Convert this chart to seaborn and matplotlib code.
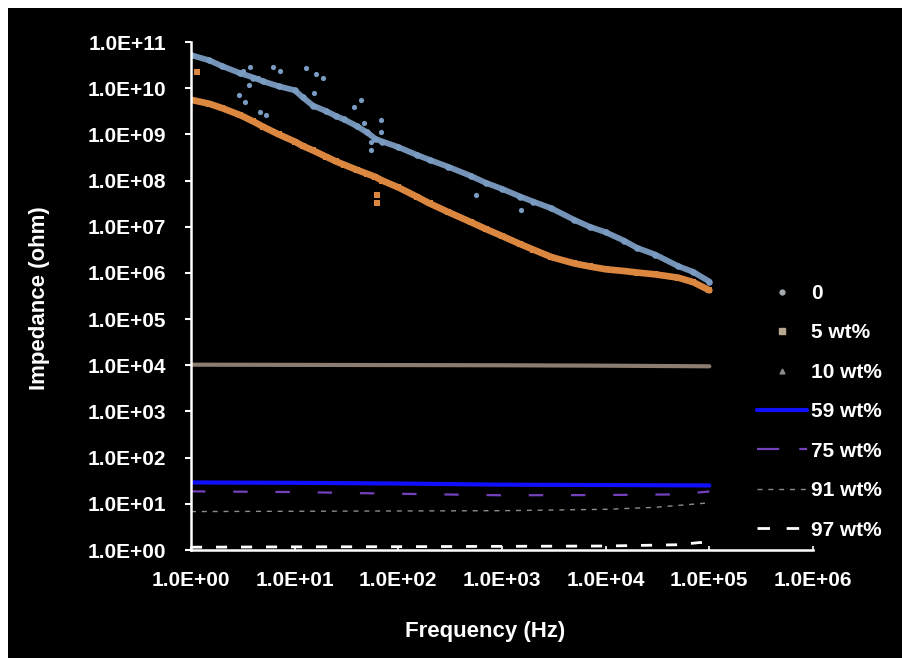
import matplotlib
matplotlib.use("Agg")
import matplotlib.pyplot as plt
from matplotlib.lines import Line2D
from matplotlib.patches import Rectangle
from matplotlib.ticker import FixedLocator, FuncFormatter, NullLocator
import seaborn as sns

# Frequency sweep (Hz) for the two dielectric samples
freq = [1, 1.5, 2, 3, 4, 5, 7, 10, 12, 15, 20, 25, 30, 40, 50, 60, 70, 100,
        150, 200, 300, 500, 700, 1000, 1500, 2000, 3000, 5000, 7000, 10000,
        15000, 20000, 30000, 50000, 70000, 100000]

# Impedance (ohm), 0 wt%
z_0 = [5.2e10, 4.0e10, 3.0e10, 2.1e10, 1.7e10, 1.4e10, 1.1e10, 9.0e9, 6.3e9,
       4.2e9, 3.2e9, 2.5e9, 2.1e9, 1.5e9, 1.1e9, 8.0e8, 7.0e8, 5.3e8, 3.6e8,
       2.8e8, 2.0e8, 1.26e8, 8.9e7, 6.6e7, 4.5e7, 3.5e7, 2.5e7, 1.4e7, 1.0e7,
       7.6e6, 5.0e6, 3.5e6, 2.5e6, 1.4e6, 1.05e6, 6.5e5]

# Scattered readings of the 0 wt% sample
out0_f = [2.9, 3.2, 3.6, 3.3, 3.7, 4.4, 4.6, 5.3, 6.2, 7.2, 12.9, 16.2, 15.5,
          18.6, 37.0, 43.6, 46.8, 54.9, 67.6, 67.6, 54.9, 562, 1510]
out0_z = [7.1e9, 2.4e10, 1.2e10, 5.0e9, 2.9e10, 1.7e10, 3.0e9, 2.6e9, 2.9e10,
          2.4e10, 2.8e10, 2.0e10, 8.0e9, 1.65e10, 3.9e9, 5.5e9, 1.8e9, 6.9e8,
          2.0e9, 1.1e9, 4.6e8, 4.9e7, 2.3e7]

# Impedance (ohm), 5 wt%
z_5 = [5.6e9, 4.6e9, 3.7e9, 2.6e9, 1.9e9, 1.45e9, 1.0e9, 7.0e8, 5.6e8, 4.5e8,
       3.3e8, 2.6e8, 2.2e8, 1.7e8, 1.4e8, 1.2e8, 1.0e8, 7.1e7, 4.5e7, 3.2e7,
       2.1e7, 1.26e7, 8.9e6, 6.3e6, 4.2e6, 3.2e6, 2.2e6, 1.6e6, 1.38e6, 1.2e6,
       1.1e6, 1.02e6, 9.3e5, 7.9e5, 6.3e5, 4.2e5]

out5_f = [1.15, 62, 62]
out5_z = [2.2e10, 4.9e7, 3.3e7]

# Nearly frequency-independent samples
freq_flat = [1, 10, 100, 1000, 10000, 100000]
z_10 = [10300, 10200, 10100, 10000, 9800, 9500]
z_59 = [29, 28.5, 27.5, 26, 25.5, 25]

freq_75 = [1, 10, 100, 1000, 10000, 50000, 100000]
z_75 = [18.6, 18.0, 16.5, 15.3, 15.5, 16.0, 18.5]

freq_91 = [1, 10, 100, 1000, 10000, 30000, 100000]
z_91 = [6.8, 6.9, 7.0, 7.1, 7.6, 8.4, 10.5]

freq_97 = [1, 10, 100, 1000, 10000, 50000, 80000, 100000, 100000]
z_97 = [1.15, 1.17, 1.18, 1.2, 1.22, 1.3, 1.45, 1.45, 1.02]

labels = ["0", "5 wt%", "10 wt%", "59 wt%", "75 wt%", "91 wt%", "97 wt%"]
x_ticks = [1e0, 1e1, 1e2, 1e3, 1e4, 1e5, 1e6]
y_ticks = [1e0, 1e1, 1e2, 1e3, 1e4, 1e5, 1e6, 1e7, 1e8, 1e9, 1e10, 1e11]

c0, c5, c10 = "#7b9cc2", "#dc8740", "#8c7d70"
c59, c75, c91, c97 = "#1010ff", "#7440bd", "#8c8c8c", "#ffffff"

sns.set_style("dark", {"axes.facecolor": "black", "figure.facecolor": "white",
                       "axes.grid": False})
plt.rcParams["font.family"] = ["Liberation Sans", "DejaVu Sans"]
plt.rcParams["font.weight"] = "bold"

W, H = 902, 658
fig = plt.figure(figsize=(W / 100, H / 100), dpi=100, facecolor="white")
fig.patches.append(Rectangle((8 / W, 0), 1 - 8 / W, 650 / H,
                             transform=fig.transFigure, facecolor="black",
                             edgecolor="none", zorder=-10))
ax = fig.add_axes([191 / W, 1 - 550 / H, (813 - 191) / W, (550 - 42) / H])
ax.set_facecolor("black")
ax.set_xscale("log")
ax.set_yscale("log")


def line(x, y, **kw):
    sns.lineplot(x=x, y=y, ax=ax, estimator=None, sort=False, legend=False, **kw)


def dots(x, y, **kw):
    sns.scatterplot(x=x, y=y, ax=ax, legend=False, linewidth=0, **kw)


# 0 wt%
line(freq, z_0, color=c0, lw=4.2, alpha=0.95)
dots(freq, z_0, color=c0, s=22, marker="o")
dots(out0_f, out0_z, color=c0, s=14, marker="o")

# 5 wt%
line(freq, z_5, color=c5, lw=4.8)
dots(freq, z_5, color=c5, s=24, marker="s")
dots(out5_f, out5_z, color=c5, s=16, marker="s")

# 10 wt% and the conductive loadings
line(freq_flat, z_10, color=c10, lw=3.0)
line(freq_flat, z_59, color=c59, lw=3.0)
line(freq_75, z_75, color=c75, lw=1.6, linestyle=(0, (6.5, 12.5)))
line(freq_91, z_91, color=c91, lw=1.0, linestyle=(0, (3.6, 4.2)))
line(freq_97, z_97, color=c97, lw=2.0, linestyle=(0, (4.0, 5.0)))

ax.set_xlim(1, 1e6)
ax.set_ylim(1, 1e11)
fmt = FuncFormatter(lambda v, p: f"{v:.1E}")
ax.xaxis.set_major_locator(FixedLocator(x_ticks))
ax.yaxis.set_major_locator(FixedLocator(y_ticks))
ax.xaxis.set_minor_locator(NullLocator())
ax.yaxis.set_minor_locator(NullLocator())
ax.xaxis.set_major_formatter(fmt)
ax.yaxis.set_major_formatter(fmt)
ax.tick_params(axis="y", direction="out", length=4, width=1.5, color="white",
               labelcolor="white", labelsize=15, pad=14, left=True)
ax.tick_params(axis="x", direction="in", length=3, width=1.2, color="white",
               labelcolor="white", labelsize=15, pad=15, bottom=True)
for side in ("top", "right"):
    ax.spines[side].set_visible(False)
for side in ("left", "bottom"):
    ax.spines[side].set_color("white")
    ax.spines[side].set_linewidth(1.8)

fig.text(485 / W, 1 - 631 / H, "Frequency (Hz)", color="white", fontsize=16,
         ha="center", va="center")
fig.text(40 / W, 1 - 298 / H, "Impedance (ohm)", color="white", fontsize=16,
         ha="center", va="center", rotation=90)

handles = [
    Line2D([], [], color="#a4aab2", marker="o", ms=3.5, lw=0),
    Line2D([], [], color="#b8a890", marker="s", ms=4, lw=0),
    Line2D([], [], color="#8a8a8a", marker="^", ms=3.5, lw=0),
    Line2D([], [], color=c59, lw=3.0),
    Line2D([], [], color=c75, lw=1.6, linestyle=(0, (10, 9))),
    Line2D([], [], color=c91, lw=1.0, linestyle=(0, (3.6, 4.2))),
    Line2D([], [], color=c97, lw=2.0, linestyle=(0, (4.5, 6.0))),
]
leg = ax.legend(handles, labels, loc="upper left",
                bbox_to_anchor=(757 / W, 1 - 284 / H),
                bbox_transform=fig.transFigure, frameon=False, fontsize=15,
                handlelength=2.4, handletextpad=0.2, labelspacing=0.98,
                borderpad=0, borderaxespad=0)
for t in leg.get_texts():
    t.set_color("white")

fig.savefig("out.png", dpi=100, facecolor=fig.get_facecolor())
